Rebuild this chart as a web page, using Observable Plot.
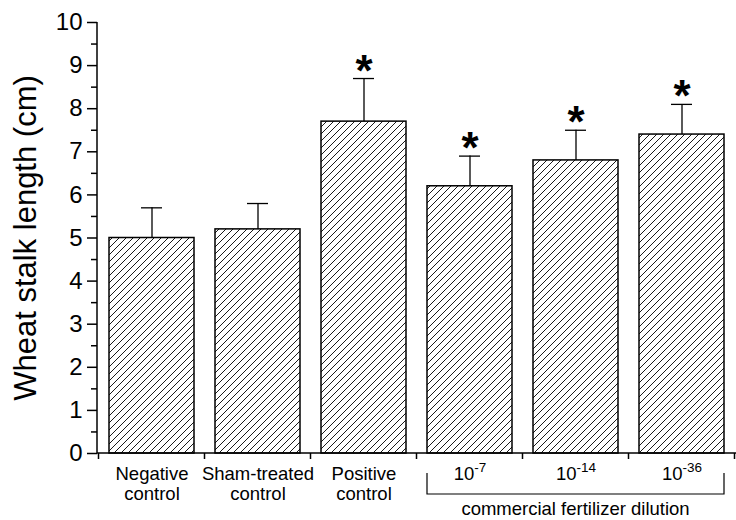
<!DOCTYPE html>
<html><head><meta charset="utf-8">
<script src="https://cdn.jsdelivr.net/npm/d3@7"></script>
<script src="https://cdn.jsdelivr.net/npm/@observablehq/plot@0.6"></script>
<style>
body{margin:0;background:#fff}
#chart svg{display:block}
</style>
</head><body><div id="chart"></div>
<script>
const categories = ["Negative control", "Sham-treated control", "Positive control", "10^-7", "10^-14", "10^-36"];
const tickLabels = ["Negative\ncontrol", "Sham-treated\ncontrol", "Positive\ncontrol", "10^-7", "10^-14", "10^-36"];
const means = [5.0, 5.2, 7.7, 6.2, 6.8, 7.4];
const errors = [0.7, 0.6, 1.0, 0.7, 0.7, 0.7];
const significant = [false, false, true, true, true, true];
const yTicks = [0, 1, 2, 3, 4, 5, 6, 7, 8, 9, 10];
const yMinorTicks = [0.5, 1.5, 2.5, 3.5, 4.5, 5.5, 6.5, 7.5, 8.5, 9.5];
const yLabel = "Wheat stalk length (cm)";
const groupLabel = "commercial fertilizer dilution";
const groupFirst = "10^-7";
const groupLast = "10^-36";

const data = categories.map((c, i) => ({
  category: c, label: tickLabels[i], mean: means[i], top: means[i] + errors[i], sig: significant[i]
}));

const font = "Arial, 'Liberation Sans', sans-serif";

function defsMark() {
  const g = d3.create("svg:g");
  const p = g.append("defs").append("pattern")
    .attr("id", "hatch").attr("patternUnits", "userSpaceOnUse")
    .attr("width", 7).attr("height", 7);
  p.append("rect").attr("width", 7).attr("height", 7).attr("fill", "white");
  p.append("path").attr("d", "M-1,1L1,-1M0,7L7,0M6,8L8,6")
    .attr("stroke", "black").attr("stroke-width", 0.9);
  return g.node();
}

function axesMark(index, scales, values, dim) {
  const {width, marginLeft, marginRight} = dim;
  const x = scales.x, y = scales.y;
  const bw = x.bandwidth();
  const step = x.step();
  const gap = (step - bw) / 2;
  const y0 = y(0);
  const g = d3.create("svg:g").attr("stroke", "black").attr("fill", "none").attr("stroke-width", 1.5);
  g.append("line").attr("x1", marginLeft).attr("x2", marginLeft).attr("y1", y(10)).attr("y2", y0);
  g.append("line").attr("x1", marginLeft).attr("x2", width - marginRight).attr("y1", y0).attr("y2", y0);
  const bounds = categories.map(c => x(c) - gap);
  bounds.push(x(categories[categories.length - 1]) + bw + gap);
  for (const b of bounds) g.append("line").attr("x1", b).attr("x2", b).attr("y1", y0).attr("y2", y0 + 6);
  const bx1 = x(groupFirst), bx2 = x(groupLast) + bw;
  g.append("path").attr("stroke-width", 1.2).attr("d", `M${bx1},${y0 + 20}V${y0 + 41}H${bx2}V${y0 + 20}`);
  g.append("text").attr("stroke", "none").attr("fill", "black")
    .attr("x", (bx1 + bx2) / 2).attr("y", y0 + 62)
    .attr("text-anchor", "middle").attr("font-size", 18.5).attr("font-family", font)
    .text(groupLabel);
  return g.node();
}

const plot = Plot.plot({
  width: 736, height: 520,
  marginLeft: 97, marginRight: 0, marginTop: 22, marginBottom: 67,
  style: {fontFamily: font, background: "white", color: "black"},
  x: {domain: categories, paddingInner: 0.2, paddingOuter: 0.1, axis: null},
  y: {domain: [0, 10], axis: null},
  marks: [
    defsMark,
    Plot.barY(data, {x: "category", y: "mean", fill: "url(#hatch)", stroke: "black", strokeWidth: 1.5}),
    Plot.ruleX(data, {x: "category", y1: "mean", y2: "top", stroke: "black", strokeWidth: 1.3}),
    Plot.tickY(data, {x: "category", y: "top", stroke: "black", strokeWidth: 1.3, insetLeft: 32, insetRight: 32}),
    Plot.text(data.filter(d => d.sig), {x: "category", y: "top", text: () => "*", fontSize: 44, fontWeight: "bold", lineAnchor: "bottom", dy: 7}),
    Plot.axisY({ticks: yTicks, tickSize: 10, tickPadding: 5, fontSize: 24, label: null, strokeWidth: 1.5}),
    Plot.axisY({ticks: yMinorTicks, tickSize: 6, tickFormat: () => "", label: null, strokeWidth: 1.5}),
    axesMark,
    Plot.text(data, {x: "category", text: "label", frameAnchor: "bottom", lineAnchor: "top", dy: 12, fontSize: 18.5, lineHeight: 1.1, className: "xlab"}),
    Plot.text([yLabel], {frameAnchor: "left", textAnchor: "middle", rotate: -90, dx: -62, lineAnchor: "bottom", fontSize: 31})
  ]
});

const svgns = "http://www.w3.org/2000/svg";
plot.querySelectorAll("g.xlab text").forEach(t => {
  const m = t.textContent.match(/^(\d+)\^(-?\d+)$/);
  if (m) {
    t.textContent = m[1];
    const ts = document.createElementNS(svgns, "tspan");
    ts.setAttribute("dy", "-8");
    ts.setAttribute("font-size", "13.5");
    ts.textContent = m[2];
    t.appendChild(ts);
  }
});

document.getElementById("chart").appendChild(plot);
</script>
</body></html>
